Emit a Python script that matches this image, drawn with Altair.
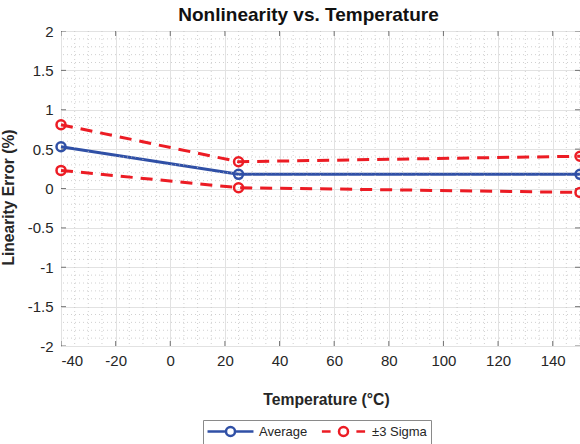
import altair as alt
import pandas as pd

# Measured nonlinearity (% of full scale) at three temperatures
temps = [-40, 25, 150]
average = [0.53, 0.18, 0.18]
sigma_upper = [0.81, 0.34, 0.41]
sigma_lower = [0.23, 0.01, -0.05]

series_names = ["Average", "±3 Sigma"]

x_major = [-40, -20, 0, 20, 40, 60, 80, 100, 120, 140]
y_major = [-2, -1.5, -1, -0.5, 0, 0.5, 1, 1.5, 2]
x_minor = [v for v in range(-40, 151, 5) if v % 20 != 0]
y_minor = [round(-2 + 0.1 * i, 1) for i in range(41) if i % 5 != 0]

BLUE = "#3050A6"
RED = "#EC1C24"
FONT = "Liberation Sans"
W, H = 519, 315

avg_df = pd.DataFrame({"temp": temps, "err": average})
sig_df = pd.DataFrame({
    "temp": temps * 2,
    "err": sigma_upper + sigma_lower,
    "bound": ["upper"] * 3 + ["lower"] * 3,
})
legend_df = pd.DataFrame({
    "temp": temps * 2,
    "err": average + sigma_upper,
    "series": [series_names[0]] * 3 + [series_names[1]] * 3,
})

xscale = alt.Scale(domain=[-40, 150], nice=False, zero=False)
yscale = alt.Scale(domain=[-2, 2], nice=False, zero=False)

x_axis = alt.Axis(
    values=x_major, title="Temperature (°C)", labelExpr="toString(datum.value)",
    grid=True, gridColor="#e2e2e2", gridWidth=1, ticks=False, tickSize=0, domain=False,
    labelPadding=7, titlePadding=24, titleX=265, titleFontSize=15.7,
)
y_axis = alt.Axis(
    values=y_major, title="Linearity Error (%)", labelExpr="toString(datum.value)",
    grid=True, gridColor="#e2e2e2", gridWidth=1, ticks=False, tickSize=0, domain=False,
    labelPadding=8, titlePadding=11, titleY=166, titleFontSize=15.6,
)


def X():
    return alt.X("temp:Q", scale=xscale, axis=x_axis)


def Y():
    return alt.Y("err:Q", scale=yscale, axis=y_axis)


# dotted minor grid
minor_x = alt.Chart(pd.DataFrame({"temp": x_minor})).mark_rule(
    color="#c4c4c4", strokeWidth=0.8, strokeDash=[1, 3]
).encode(x=X())
minor_y = alt.Chart(pd.DataFrame({"err": y_minor})).mark_rule(
    color="#c4c4c4", strokeWidth=0.8, strokeDash=[1, 3]
).encode(y=Y())

# inward tick marks on all four sides (clipped to the plot box)
tick_style = dict(color="#404040", thickness=1, size=10, clip=True)
xt = pd.DataFrame({"temp": x_major})
yt = pd.DataFrame({"err": y_major})
ticks_bottom = alt.Chart(xt).mark_tick(**tick_style).encode(x=X(), y=alt.value(H))
ticks_top = alt.Chart(xt).mark_tick(**tick_style).encode(x=X(), y=alt.value(0))
ticks_left = alt.Chart(yt).mark_tick(**tick_style).encode(y=Y(), x=alt.value(0))
ticks_right = alt.Chart(yt).mark_tick(**tick_style).encode(y=Y(), x=alt.value(W))

avg_line = alt.Chart(avg_df).mark_line(color=BLUE, strokeWidth=3).encode(x=X(), y=Y())
sig_line = alt.Chart(sig_df).mark_line(
    color=RED, strokeWidth=3, strokeDash=[12, 8]
).encode(x=X(), y=Y(), detail="bound:N")
sig_pts = alt.Chart(sig_df).mark_point(
    shape="circle", filled=False, color=RED, size=81, strokeWidth=2.5, opacity=1
).encode(x=X(), y=Y())
avg_pts = alt.Chart(avg_df).mark_point(
    shape="circle", filled=False, color=BLUE, size=81, strokeWidth=2.5, opacity=1
).encode(x=X(), y=Y())

# legend key symbols: line with a circle marker, dashed for the sigma band
path_avg = ("M-3.83,0H-0.75M0.75,0H3.83"
            "M-0.75,0A0.75,0.75 0 1,1 0.75,0A0.75,0.75 0 1,1 -0.75,0")
path_sig = ("M-3.6,0H-2.15M2.15,0H3.6"
            "M-0.75,0A0.75,0.75 0 1,1 0.75,0A0.75,0.75 0 1,1 -0.75,0")

legend_props = dict(
    title=None, orient="none", legendX=142, legendY=389, direction="horizontal",
    strokeColor="#8a8a8a", fillColor="#ffffff", padding=4, symbolSize=144,
    symbolStrokeWidth=2.5, symbolOffset=16, labelOffset=21, columnPadding=8,
    labelFontSize=13, labelFont=FONT, labelColor="#262626", symbolOpacity=1,
)
legend_layer = alt.Chart(legend_df).mark_point(filled=False, opacity=0, size=144).encode(
    x=X(), y=Y(),
    color=alt.Color("series:N", scale=alt.Scale(domain=series_names, range=[BLUE, RED]),
                    legend=alt.Legend(**legend_props)),
    shape=alt.Shape("series:N", scale=alt.Scale(domain=series_names, range=[path_avg, path_sig]),
                    legend=alt.Legend(**legend_props)),
)

chart = alt.layer(
    avg_line, minor_x, minor_y, ticks_bottom, ticks_top, ticks_left, ticks_right,
    sig_line, sig_pts, avg_pts, legend_layer,
).properties(
    width=W, height=H,
    title=alt.Title("Nonlinearity vs. Temperature", fontSize=19, fontWeight="bold",
                    font=FONT, color="#111111", anchor="middle", dx=-12, dy=5, offset=4),
    autosize=alt.AutoSizeParams(type="none"),
    padding={"left": 61, "top": 31, "right": 0, "bottom": 98},
).configure(
    font=FONT,
).configure_axis(
    labelFont=FONT, labelFontSize=15, labelColor="#262626",
    titleFont=FONT, titleFontWeight="bold", titleColor="#262626",
).configure_view(
    stroke="#404040", strokeWidth=1,
)

chart.save("out.html", embed_options={"renderer": "svg", "actions": False})
